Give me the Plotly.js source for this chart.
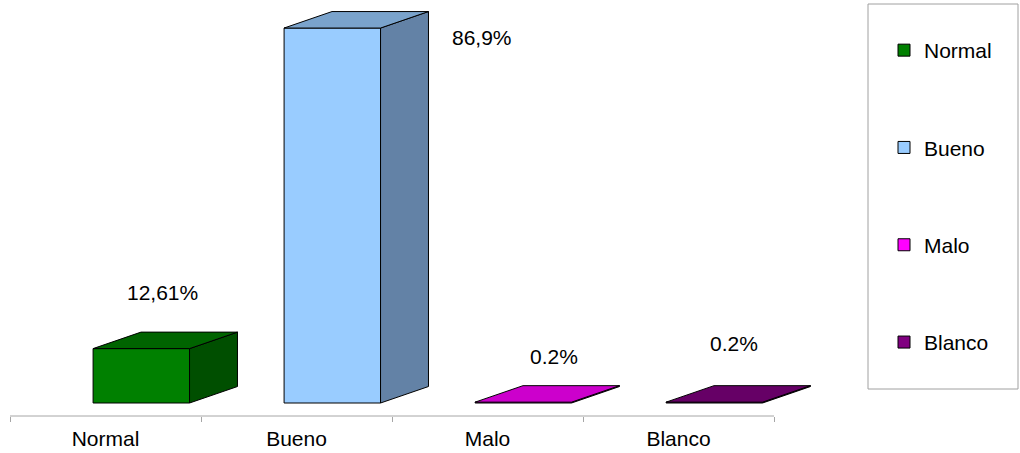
<!DOCTYPE html>
<html>
<head>
<meta charset="utf-8">
<script src="https://cdn.plot.ly/plotly-3.0.1.min.js"></script>
<style>html,body{margin:0;padding:0;background:#fff;}#chart{width:1020px;height:453px;}</style>
</head>
<body>
<div id="chart"></div>
<script>
// ---- data ----
const categories = ['Normal', 'Bueno', 'Malo', 'Blanco'];
const values = [12.61, 86.9, 0.2, 0.2];
const valueLabels = ['12,61%', '86,9%', '0.2%', '0.2%'];

// ---- styles ----
const frontColors = ['#008000', '#99ccff', '#ff00ff', '#800080'];
const topColors = ['#006400', '#7aa3cc', '#cc00cc', '#660066'];
const sideColors = ['#004f00', '#6382a6', '#990099', '#4d004d'];
const barOffset = 0.435;   // front face left edge inside category (axis units)
const barWidth = 0.505;
const depthX = 0.251;      // 3D depth offset (axis units)
const depthY = 3.82;       // 3D depth offset (value units)
const labelDX = [0.796, 1.47, 0.848, 0.79];
const labelDY = [12.9, -2.2, 10.5, 13.5];
const FONT = 'Liberation Sans, Arial, sans-serif';
const FS = 21;

// plot geometry helpers (pixels -> paper)
const ML = 10, MR = 189, MT = 5, MB = 37, W = 1020, H = 453;
const PW = W - ML - MR, PH = H - MT - MB;
const XMAX = PW / 191;
const px = p => (p - ML) / PW;
const py = p => (H - MB - p) / PH;

const traces = [];
categories.forEach((c, i) => {
  const v = values[i];
  const xl = i + barOffset;
  traces.push({
    type: 'bar', name: c, x: [xl + barWidth / 2], y: [v], width: [barWidth],
    marker: {color: frontColors[i], line: {color: '#000', width: 1}},
    hoverinfo: 'skip', showlegend: true, legendgroup: 'g' + i
  });
});
categories.forEach((c, i) => {
  const v = values[i];
  const xl = i + barOffset, xr = xl + barWidth;
  traces.push({
    type: 'scatter', mode: 'lines', fill: 'toself', showlegend: false, hoverinfo: 'skip',
    x: [xr, xr, xr + depthX, xr + depthX, xr],
    y: [0, v, v + depthY, depthY, 0],
    fillcolor: sideColors[i], line: {color: '#000', width: 1}
  });
  traces.push({
    type: 'scatter', mode: 'lines', fill: 'toself', showlegend: false, hoverinfo: 'skip',
    x: [xl, xr, xr + depthX, xl + depthX, xl],
    y: [v, v, v + depthY, v + depthY, v],
    fillcolor: topColors[i], line: {color: '#000', width: 1}
  });
});

const annotations = categories.map((c, i) => ({
  x: i + labelDX[i], y: values[i] + labelDY[i], xref: 'x', yref: 'y',
  text: valueLabels[i], showarrow: false, font: {family: FONT, size: FS, color: '#000'}
}));

const layout = {
  width: W, height: H,
  margin: {l: ML, r: MR, t: MT, b: MB},
  paper_bgcolor: '#fff', plot_bgcolor: '#fff',
  font: {family: FONT, size: FS, color: '#000'},
  barmode: 'overlay',
  xaxis: {
    range: [0, XMAX], fixedrange: true, showgrid: false, zeroline: false,
    tickmode: 'array', tickvals: categories.map((c, i) => i + 0.5), ticktext: categories,
    ticks: '', showline: false, ticklabelstandoff: 8,
    minor: {tickmode: 'array', tickvals: [0, 1, 2, 3, 4], ticks: 'outside', ticklen: 5, tickcolor: '#a6a6a6', showgrid: false},
    tickfont: {family: FONT, size: FS, color: '#000'}
  },
  yaxis: {range: [-3.01, 92.24], visible: false, fixedrange: true},
  showlegend: true,
  legend: {
    x: px(884), xanchor: 'left', y: py(30), yanchor: 'top',
    traceorder: 'grouped', tracegroupgap: 67,
    font: {family: FONT, size: FS, color: '#000'},
    bgcolor: 'rgba(0,0,0,0)', borderwidth: 0
  },
  shapes: [
    {type: 'line', xref: 'x', yref: 'paper', x0: 0, x1: 4, y0: 0, y1: 0,
     line: {color: '#a6a6a6', width: 1}},
    {type: 'rect', xref: 'paper', yref: 'paper', x0: px(868), x1: px(1018), y0: py(389), y1: py(4),
     line: {color: '#a0a0a0', width: 1}, fillcolor: 'rgba(0,0,0,0)', layer: 'below'}
  ],
  annotations: annotations
};
Plotly.newPlot('chart', traces, layout, {displayModeBar: false, staticPlot: true});
</script>
</body>
</html>
